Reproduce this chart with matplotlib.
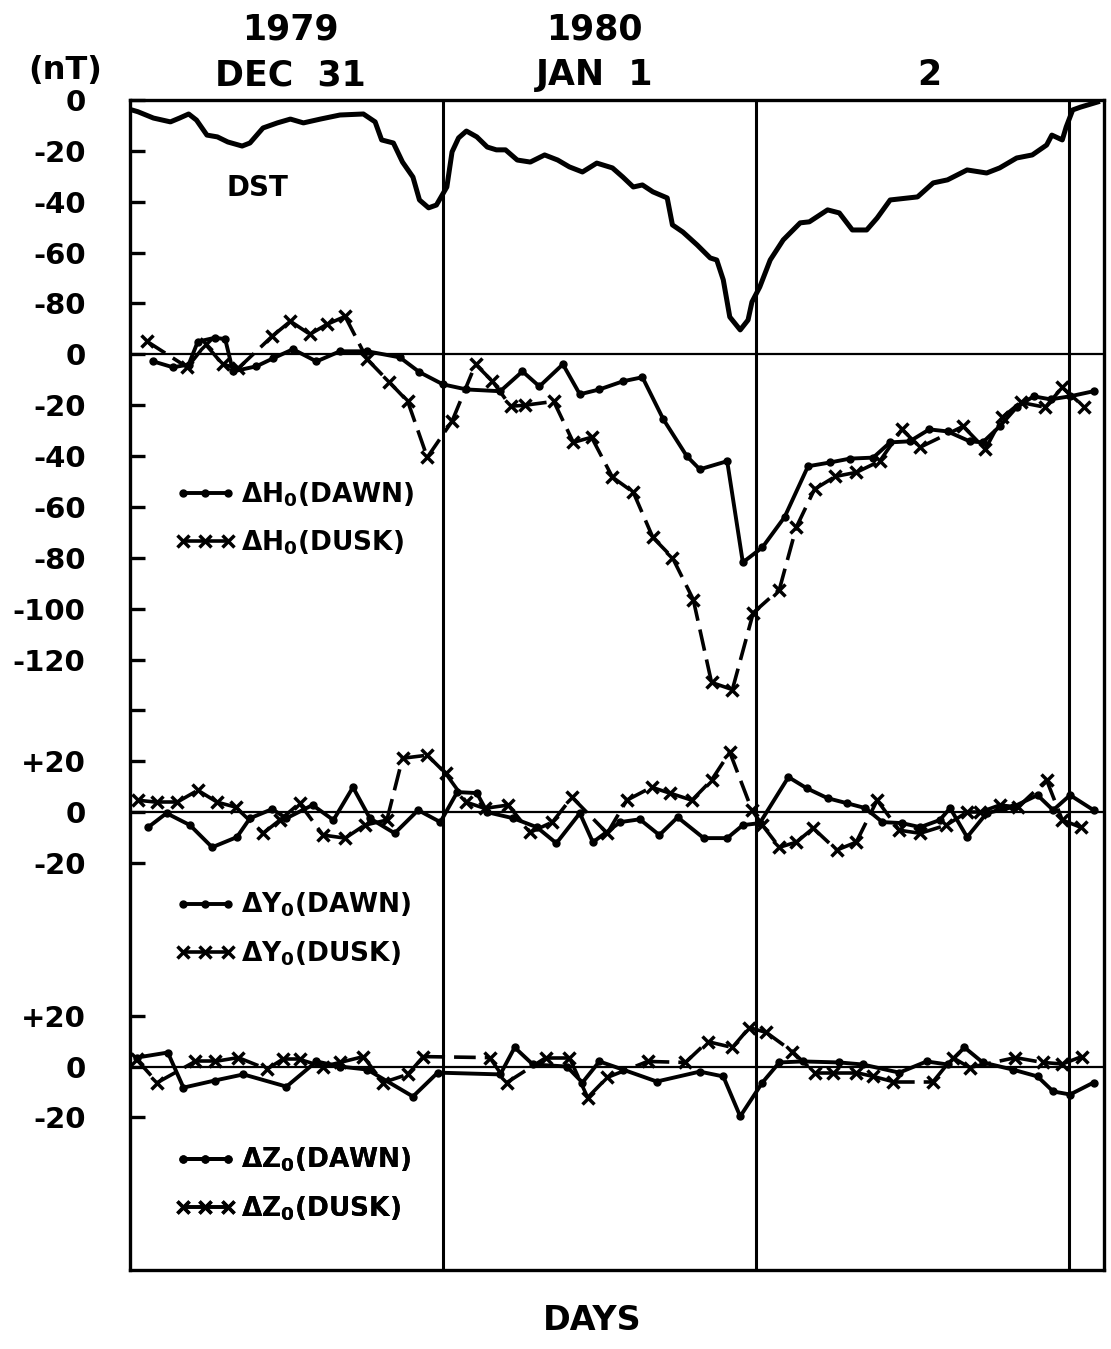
import matplotlib
matplotlib.use("Agg")
import matplotlib.pyplot as plt
from matplotlib.lines import Line2D
from matplotlib.collections import LineCollection
from matplotlib.ticker import FixedLocator, FixedFormatter

# time axis: hours after 1979 Dec 31 00 UT, values in nT
dst_t = [0.2, 0.6, 1.8, 3.1, 3.8, 4.5, 5.1, 5.9, 6.7, 7.5, 8.6, 9.2, 10.2, 11.3, 12.3, 13.3,
         14.6, 16.1, 17.9, 18.8, 19.3, 20.2, 20.9, 21.7, 22.2, 22.9, 23.5, 24.3, 24.7, 25.2,
         25.8, 26.6, 27.4, 28.1, 28.8, 29.7, 30.7, 31.8, 32.8, 33.7, 34.7, 35.8, 37.0, 37.8,
         38.6, 39.3, 40.1, 41.2, 41.6, 42.4, 43.5, 44.5, 45.0, 45.5, 46.0, 46.8, 47.4, 47.7,
         48.3, 49.1, 50.1, 51.4, 52.1, 53.5, 54.4, 55.4, 56.5, 57.3, 58.3, 60.4, 61.6, 62.7,
         64.2, 65.7, 66.7, 68.0, 69.2, 70.3, 70.7, 71.5, 71.8, 72.3, 72.9, 74.2]
dst_v = [-4.0, -4.6, -7.1, -8.6, -7.1, -5.5, -7.9, -13.8, -14.5, -16.5, -18.1, -16.9, -11.0,
         -9.0, -7.5, -9.0, -7.5, -5.9, -5.5, -8.6, -15.7, -16.9, -24.4, -30.3, -39.3, -42.4,
         -41.3, -34.2, -20.4, -14.9, -12.2, -14.5, -18.5, -19.6, -19.6, -23.6, -24.4, -21.6,
         -23.6, -26.3, -28.3, -24.8, -26.7, -30.3, -34.2, -33.4, -36.1, -38.5, -49.1, -51.9,
         -57.0, -62.1, -62.9, -70.7, -85.3, -90.4, -86.5, -79.4, -73.5, -62.9, -55.0, -48.3,
         -47.9, -43.2, -44.4, -51.1, -51.1, -46.4, -39.3, -38.1, -32.6, -31.4, -27.5, -28.7,
         -26.7, -22.8, -21.6, -17.7, -13.8, -15.7, -10.6, -3.9, -2.8, -0.8]

h_dawn_t = [1.8, 3.3, 4.5, 5.2, 6.5, 7.3, 7.9, 9.7, 11.0, 12.5, 14.3, 16.1, 18.2, 20.7, 22.2,
            24.0, 25.8, 28.4, 30.1, 31.4, 33.2, 34.5, 36.0, 37.8, 39.3, 40.9, 42.7, 43.7, 45.8,
            47.0, 48.5, 50.2, 52.0, 53.7, 55.2, 57.0, 58.3, 59.8, 61.3, 62.7, 64.4, 65.4, 66.7,
            68.0, 69.3, 70.6, 72.1, 73.9]
h_dawn_v = [-2.8, -5.1, -4.0, 5.0, 6.5, 6.0, -6.7, -4.7, -1.5, 2.0, -2.8, 1.2, 1.2, -1.2, -7.0,
            -11.8, -13.8, -14.5, -6.7, -12.6, -3.9, -15.7, -13.8, -10.6, -9.0, -25.5, -40.0,
            -45.2, -42.0, -81.8, -75.9, -64.0, -44.0, -42.5, -41.0, -40.6, -34.6, -34.2, -29.5,
            -30.3, -34.2, -34.6, -28.3, -20.8, -16.5, -17.7, -16.5, -14.5]
h_dusk_t = [1.3, 4.4, 5.8, 7.1, 8.3, 10.9, 12.3, 13.8, 15.1, 16.5, 18.2, 19.9, 21.3, 22.8, 24.7,
            26.5, 27.8, 29.2, 30.3, 32.5, 34.0, 35.4, 37.0, 38.6, 40.1, 41.6, 43.2, 44.6, 46.2,
            47.8, 49.8, 51.1, 52.5, 54.1, 55.7, 57.5, 59.2, 60.6, 63.9, 65.6, 66.9, 68.3, 70.2,
            71.5, 73.2]
h_dusk_v = [5.1, -5.1, 3.9, -3.9, -5.5, 7.1, 13.0, 7.9, 11.8, 14.9, -2.0, -11.0, -18.5, -40.5,
            -26.3, -3.9, -10.6, -20.4, -20.0, -18.5, -34.6, -32.6, -48.3, -54.2, -72.0, -79.9,
            -96.4, -129.0, -131.8, -101.6, -92.5, -68.0, -53.0, -48.0, -46.4, -42.0, -29.5,
            -36.5, -28.3, -37.3, -24.8, -18.9, -20.8, -13.0, -20.8]

y_dawn_t = [1.4, 2.8, 4.6, 6.3, 8.2, 9.2, 10.9, 12.0, 14.0, 15.6, 17.1, 18.4, 20.3, 22.1, 23.8,
            25.1, 26.6, 27.4, 29.4, 31.2, 32.7, 34.5, 35.5, 37.6, 39.1, 40.6, 42.0, 44.0, 45.8,
            47.0, 48.3, 50.5, 51.9, 53.5, 55.0, 56.4, 57.7, 59.2, 60.6, 62.1, 62.9, 64.2, 65.7,
            67.7, 69.6, 70.8, 72.1, 73.9]
y_dawn_v = [-5.9, -0.4, -5.1, -13.8, -9.8, -2.4, 1.2, -2.4, 2.8, -3.1, 9.8, -2.4, -8.3, 0.8, -3.9,
            7.9, 7.5, 0.0, -2.4, -5.9, -12.2, -0.4, -11.8, -3.9, -2.8, -9.0, -2.0, -10.2, -10.2,
            -5.1, -4.3, 13.8, 9.4, 5.5, 3.5, 1.6, -3.9, -4.3, -5.9, -3.1, 1.6, -9.8, -0.4, 2.0,
            6.7, 0.8, 6.7, 0.8]
y_dusk_t = [0.6, 2.1, 3.6, 5.2, 6.7, 8.1, 10.2, 11.5, 13.0, 14.8, 16.5, 18.0, 19.7, 20.9, 22.8,
            24.2, 25.8, 27.2, 29.0, 30.7, 32.4, 33.9, 36.6, 38.1, 40.0, 41.4, 43.1, 44.6, 46.0,
            47.7, 48.5, 49.8, 51.1, 52.4, 54.2, 55.7, 57.3, 59.0, 60.6, 62.6, 64.2, 65.2, 66.7,
            68.1, 70.3, 71.5, 72.9]
y_dusk_v = [4.7, 3.9, 3.9, 8.6, 3.9, 2.0, -8.3, -3.1, 3.5, -9.0, -10.2, -5.1, -3.1, 21.2, 22.4,
            15.3, 3.9, 1.5, 2.8, -7.9, -3.9, 5.9, -8.3, 4.7, 9.8, 7.5, 4.7, 12.6, 23.6, 0.8, -5.1,
            -13.8, -11.8, -6.3, -14.9, -11.8, 4.7, -7.1, -8.3, -5.1, 0.0, 0.0, 2.8, 2.0, 12.6,
            -3.1, -5.9]

z_dawn_t = [0.5, 2.9, 4.1, 6.5, 8.7, 12.0, 14.3, 16.1, 18.2, 21.7, 23.6, 28.4, 29.5, 30.9, 33.5,
            34.7, 36.0, 37.8, 40.4, 43.7, 45.5, 46.8, 48.5, 49.8, 51.6, 54.4, 56.2, 59.0, 61.1,
            62.7, 64.0, 65.4, 67.7, 69.6, 70.8, 72.1, 73.9]
z_dawn_v = [3.5, 5.5, -8.3, -5.5, -3.1, -7.9, 2.0, 0.0, -1.2, -11.8, -2.4, -3.1, 7.5, 0.8, 0.0,
            -6.3, 2.0, -1.2, -5.9, -2.0, -3.9, -19.6, -6.3, 1.6, 2.0, 1.6, 0.8, -2.4, 2.0, 0.8,
            7.5, 1.6, -1.2, -3.9, -9.8, -11.0, -6.3]
z_dusk_t = [0.5, 2.1, 5.0, 6.5, 8.3, 10.5, 11.7, 13.0, 14.8, 16.1, 17.9, 19.4, 21.3, 22.5, 27.6,
            28.9, 31.9, 33.7, 35.1, 36.6, 39.7, 42.6, 44.3, 46.2, 47.5, 48.8, 50.8, 52.5, 53.9,
            55.7, 57.0, 58.5, 61.6, 63.1, 64.4, 67.9, 70.0, 71.5, 73.0]
z_dusk_v = [2.8, -6.3, 2.0, 2.0, 3.5, -1.0, 2.8, 2.8, 0.0, 1.6, 3.9, -6.3, -3.1, 3.9, 3.5, -6.3,
            3.5, 3.5, -12.2, -4.3, 2.0, 1.6, 9.8, 7.5, 15.3, 13.4, 5.9, -2.4, -2.4, -2.4, -3.9,
            -5.9, -5.9, 3.5, -0.4, 3.5, 1.6, 1.0, 3.9]

# panel baselines on the shared nT scale
OFF_H, OFF_Y, OFF_Z = -100, -280, -380

ytick_pos = [0, -20, -40, -60, -80,
             -100, -120, -140, -160, -180, -200, -220, -240,
             -260, -280, -300,
             -360, -380, -400]
ytick_lab = ["0", "-20", "-40", "-60", "-80",
             "0", "-20", "-40", "-60", "-80", "-100", "-120", "",
             "+20", "0", "-20",
             "+20", "0", "-20"]

plt.rcParams['font.family'] = ['DejaVu Sans']
plt.rcParams['font.weight'] = 'bold'

fig = plt.figure(figsize=(11.11, 13.49), dpi=100)
ax = fig.add_axes([130 / 1111, 79 / 1349, 974 / 1111, 1170 / 1349])
ax.set_xlim(0, 74.7)
ax.set_ylim(-460, 0)

for s in ax.spines.values():
    s.set_linewidth(2.4)

# zero lines and day boundaries
for off in (OFF_H, OFF_Y, OFF_Z):
    ax.axhline(off, color='black', lw=1.6)
for d in (24, 48, 72):
    ax.axvline(d, color='black', lw=2.2)

ax.plot(dst_t, dst_v, color='black', lw=3.6, solid_joinstyle='round')


def shift(vals, off):
    return [v + off for v in vals]


def plot_dawn(t, v, off):
    ax.plot(t, shift(v, off), color='black', lw=2.8, marker='o', ms=5,
            solid_joinstyle='round')


def plot_dusk(t, v, off):
    # each segment starts its own dash, so short hops look solid like the pen drawing
    y = shift(v, off)
    segs = [[(t[i], y[i]), (t[i + 1], y[i + 1])] for i in range(len(t) - 1)]
    ax.add_collection(LineCollection(segs, colors='black', linewidths=2.6,
                                     linestyles=[(0, (6, 2.5))], capstyle='butt'))
    ax.plot(t, y, ls='none', color='black', marker='x', ms=9, mew=2.5)


plot_dawn(h_dawn_t, h_dawn_v, OFF_H)
plot_dusk(h_dusk_t, h_dusk_v, OFF_H)
plot_dawn(y_dawn_t, y_dawn_v, OFF_Y)
plot_dusk(y_dusk_t, y_dusk_v, OFF_Y)
plot_dawn(z_dawn_t, z_dawn_v, OFF_Z)
plot_dusk(z_dusk_t, z_dusk_v, OFF_Z)

ax.set_xticks([])
ax.yaxis.set_major_locator(FixedLocator(ytick_pos))
ax.yaxis.set_major_formatter(FixedFormatter(ytick_lab))
ax.tick_params(axis='y', direction='in', length=11, width=2.4, pad=32, labelsize=21)

ax.text(9.8, -34.6, "DST", fontsize=20, ha='center', va='center')

# legends
dawn_hd = Line2D([], [], color='black', lw=2.8, marker='o', ms=5)
dusk_hd = Line2D([], [], color='black', lw=2.6, marker='x', ms=9, mew=2.5)
for comp, ytop in (("H", 0.675), ("Y", 0.324), ("Z", 0.106)):
    leg = ax.legend([dawn_hd, dusk_hd],
                    ["Δ" + comp + r"$_0$(DAWN)", "Δ" + comp + r"$_0$(DUSK)"],
                    loc='upper left', bbox_to_anchor=(0.046, ytop), frameon=False,
                    numpoints=3, handlelength=2.3, handletextpad=0.2, borderpad=0,
                    borderaxespad=0, labelspacing=0.75,
                    prop={'size': 19, 'weight': 'bold'})
    ax.add_artist(leg)

# date labels above the frame
tr = ax.get_xaxis_transform()
for x, year, day in ((12.3, "1979", "DEC  31"), (35.6, "1980", "JAN  1"), (61.3, "", "2")):
    if year:
        ax.text(x, 1.06, year, transform=tr, ha='center', va='center', fontsize=25)
    ax.text(x, 1.021, day, transform=tr, ha='center', va='center', fontsize=25)

fig.text(65 / 1111, 1 - 70 / 1349, "(nT)", ha='center', va='center', fontsize=23)
fig.text(592 / 1111, 1 - 1320 / 1349, "DAYS", ha='center', va='center', fontsize=24)

fig.savefig("out.png", dpi=100, facecolor='white')
